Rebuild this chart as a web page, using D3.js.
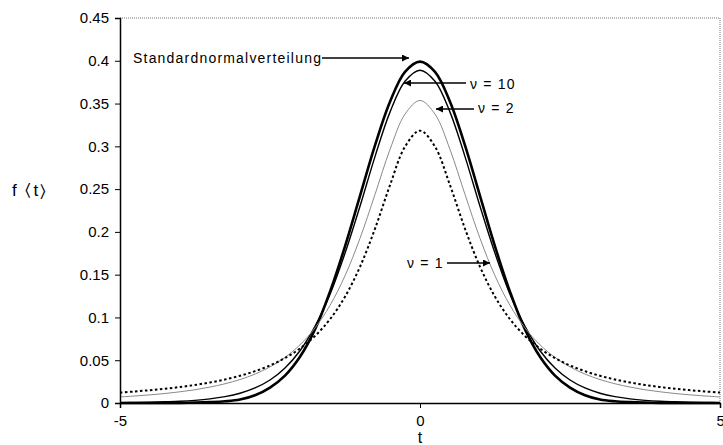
<!DOCTYPE html>
<html>
<head>
<meta charset="utf-8">
<script src="https://cdn.jsdelivr.net/npm/d3@7"></script>
<style>
  body { margin: 0; background: #fff; }
  svg { font-family: "Liberation Sans", Arial, sans-serif; }
</style>
</head>
<body>
<svg id="chart" width="723" height="445"></svg>
<script>
// t values and density values
var tVals = [-5, -4.75, -4.5, -4.25, -4, -3.75, -3.5, -3.25, -3, -2.75, -2.5, -2.25, -2, -1.75, -1.5, -1.25, -1, -0.75, -0.5, -0.25,
  0, 0.25, 0.5, 0.75, 1, 1.25, 1.5, 1.75, 2, 2.25, 2.5, 2.75, 3, 3.25, 3.5, 3.75, 4, 4.25, 4.5, 4.75, 5];

// values for t = 0 .. 5 (the curves are symmetric)
var halfNormal = [0.399, 0.387, 0.352, 0.301, 0.242, 0.183, 0.130, 0.086, 0.054, 0.032, 0.018, 0.009, 0.004, 0.002, 0.001, 0.0004, 0.0001, 0, 0, 0, 0];
var halfNu10 = [0.389, 0.376, 0.340, 0.288, 0.230, 0.175, 0.127, 0.0895, 0.0611, 0.0409, 0.0269, 0.0176, 0.0114, 0.0074, 0.0048, 0.0031, 0.0020, 0.0014, 0.0009, 0.0006, 0.0004];
var halfNu2 = [0.3536, 0.3376, 0.2963, 0.2438, 0.1925, 0.1487, 0.1141, 0.0878, 0.0680, 0.0533, 0.0422, 0.0338, 0.0274, 0.0225, 0.0186, 0.0155, 0.0131, 0.0111, 0.0095, 0.0082, 0.0071];
var halfNu1 = [0.3183, 0.2996, 0.2546, 0.2037, 0.1592, 0.1242, 0.0979, 0.0784, 0.0637, 0.0525, 0.0439, 0.0372, 0.0318, 0.0275, 0.0240, 0.0211, 0.0187, 0.0167, 0.0150, 0.0135, 0.0122];

var yTicks = [0, 0.05, 0.1, 0.15, 0.2, 0.25, 0.3, 0.35, 0.4, 0.45];
var xTicks = [-5, 0, 5];

function mirror(half) {
  return half.slice(1).reverse().concat(half);
}

var series = [
  { name: "normal", vals: mirror(halfNormal), color: "#000", width: 2.6, dash: null },
  { name: "nu10", vals: mirror(halfNu10), color: "#000", width: 1.4, dash: null },
  { name: "nu2", vals: mirror(halfNu2), color: "#8a8a8a", width: 1, dash: null },
  { name: "nu1", vals: mirror(halfNu1), color: "#000", width: 2, dash: "2.5,2.5" }
];

var svg = d3.select("#chart");
var pLeft = 120, pRight = 720, pTop = 18, pBottom = 403;

var x = d3.scaleLinear().domain([-5, 5]).range([pLeft, pRight]);
var y = d3.scaleLinear().domain([0, 0.45]).range([pBottom, pTop]);

// plot area frame, dotted top and right
svg.append("line").attr("x1", pLeft).attr("x2", pRight).attr("y1", pTop).attr("y2", pTop)
  .attr("stroke", "#777").attr("stroke-dasharray", "1,1");
svg.append("line").attr("x1", pRight).attr("x2", pRight).attr("y1", pTop).attr("y2", pBottom)
  .attr("stroke", "#777").attr("stroke-dasharray", "1,1");

var line = d3.line()
  .x(function(d, i) { return x(tVals[i]); })
  .y(function(d) { return y(d); })
  .curve(d3.curveCatmullRom);

series.forEach(function(s) {
  svg.append("path")
    .attr("d", line(s.vals))
    .attr("fill", "none")
    .attr("stroke", s.color)
    .attr("stroke-width", s.width)
    .attr("stroke-dasharray", s.dash)
    .attr("stroke-linejoin", "round");
});

// axes
var yAxis = d3.axisLeft(y).tickValues(yTicks).tickSize(5).tickPadding(6)
  .tickFormat(function(d) { return d === 0 ? "0" : String(+d.toFixed(2)); });
var gy = svg.append("g").attr("transform", "translate(" + pLeft + ",0)").call(yAxis);

var xAxis = d3.axisBottom(x).tickValues(xTicks).tickSize(5).tickPadding(7)
  .tickFormat(function(d) { return String(d); });
var gx = svg.append("g").attr("transform", "translate(0," + pBottom + ")").call(xAxis);

[gy, gx].forEach(function(g) {
  g.select(".domain").attr("stroke", "#000").attr("stroke-width", 1.5);
  g.selectAll(".tick line").attr("stroke", "#000");
  g.selectAll(".tick text").attr("font-size", 15).attr("fill", "#000")
    .attr("font-family", "Liberation Sans, Arial, sans-serif");
});
gx.selectAll(".tick text").attr("text-anchor", function(d) { return d === 5 ? "start" : "middle"; })
  .attr("dx", function(d) { return d === 5 ? -4 : 0; });

// axis titles
svg.append("text").attr("x", 420).attr("y", 443).attr("text-anchor", "middle")
  .attr("font-size", 16).text("t");
svg.append("text").attr("x", 12).attr("y", 196).attr("letter-spacing", 2)
  .attr("font-size", 17).text("f \u2329t\u232A");

// annotations with arrows
svg.append("defs").append("marker")
  .attr("id", "arr").attr("viewBox", "0 0 10 10").attr("refX", 10).attr("refY", 5)
  .attr("markerWidth", 9).attr("markerHeight", 7).attr("markerUnits", "userSpaceOnUse")
  .attr("orient", "auto")
  .append("path").attr("d", "M0,0 L10,5 L0,10 z").attr("fill", "#000");

var notes = [
  { text: "Standardnormalverteilung", tx: 133, ty: 63, x1: 322, y1: 58, x2: 409, y2: 58 },
  { text: "\u03BD = 10", tx: 470, ty: 89, x1: 466, y1: 83, x2: 404, y2: 83 },
  { text: "\u03BD = 2", tx: 478, ty: 113, x1: 474, y1: 109, x2: 436, y2: 109 },
  { text: "\u03BD = 1", tx: 407, ty: 268, x1: 447, y1: 263, x2: 490, y2: 263 }
];
notes.forEach(function(n) {
  svg.append("text").attr("x", n.tx).attr("y", n.ty)
    .attr("font-size", 14).attr("letter-spacing", 1.2).text(n.text);
  svg.append("line").attr("x1", n.x1).attr("y1", n.y1).attr("x2", n.x2).attr("y2", n.y2)
    .attr("stroke", "#000").attr("stroke-width", 1.5).attr("marker-end", "url(#arr)");
});
</script>
</body>
</html>
